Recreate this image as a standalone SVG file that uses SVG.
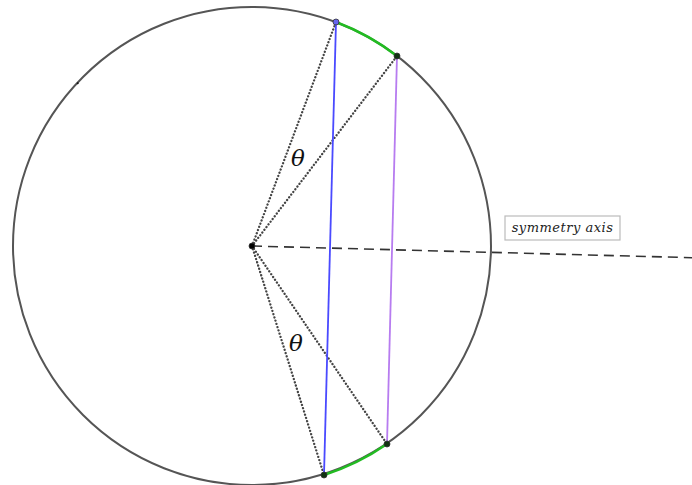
<svg xmlns="http://www.w3.org/2000/svg" width="692" height="485" viewBox="0 0 692 485">
<style>
.dot{stroke:#333;stroke-width:0.8}
.rad{stroke:#444;stroke-width:2.3;stroke-dasharray:0.1 3.3;stroke-linecap:round;fill:none}
.theta{font-family:"DejaVu Serif","Liberation Serif",serif;font-style:italic;font-size:23px;fill:#111}
</style>
<rect width="692" height="485" fill="#fff"/>
<g id="circle">
<circle cx="252" cy="246" r="239" fill="none" stroke="#555" stroke-width="2"/>
<circle cx="77.7" cy="83.3" r="1" fill="#111"/>
</g>
<g id="connectors">
<line x1="252" y1="246" x2="692" y2="257.7" stroke="#333" stroke-width="1.6" stroke-dasharray="10 6"/>
<line class="rad" x1="252" y1="246" x2="336" y2="22"/>
<line class="rad" x1="252" y1="246" x2="397" y2="56"/>
<line class="rad" x1="252" y1="246" x2="387" y2="444"/>
<line class="rad" x1="252" y1="246" x2="324" y2="475"/>
<path d="M336 22 A239 239 0 0 1 397 56" fill="none" stroke="#22bb22" stroke-width="2.5"/>
<path d="M324 475 A239 239 0 0 0 387 444" fill="none" stroke="#22bb22" stroke-width="2.5"/>
<line x1="336" y1="22" x2="324" y2="475" stroke="#4a4aff" stroke-width="1.8"/>
<line x1="397" y1="56" x2="387" y2="444" stroke="#b77cf0" stroke-width="1.8"/>
</g>
<g id="points">
<circle class="dot" cx="252" cy="246" r="3" fill="#000"/>
<circle class="dot" cx="336" cy="22" r="3" fill="#6666ee"/>
<circle class="dot" cx="397" cy="56" r="3" fill="#113311"/>
<circle class="dot" cx="387" cy="444" r="3" fill="#113311"/>
<circle class="dot" cx="324" cy="475" r="3" fill="#113311"/>
</g>
<g id="theta-top"><text class="theta" x="291" y="166">θ</text></g>
<g id="theta-bottom"><text class="theta" x="289" y="351">θ</text></g>
<g id="label">
<rect x="505" y="216" width="115" height="24" fill="#fff" stroke="#bbb" stroke-width="1.2"/>
<text x="562.5" y="232" text-anchor="middle" font-family="DejaVu Serif, Liberation Serif, serif" font-style="italic" font-size="13" letter-spacing="0.5" fill="#222">symmetry axis</text>
</g>
</svg>
